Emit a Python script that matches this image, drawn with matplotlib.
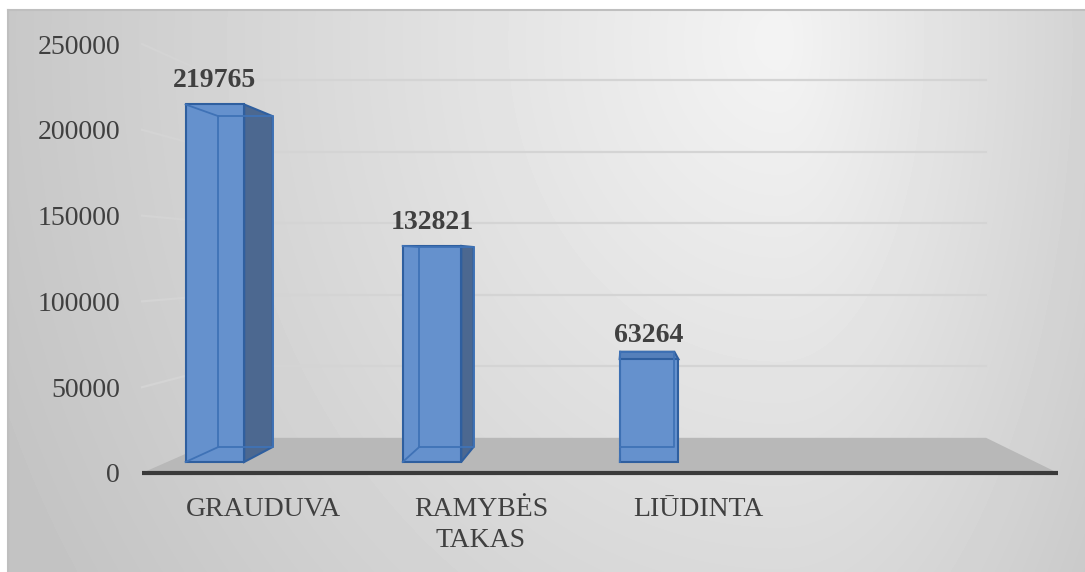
import numpy as np
import matplotlib.pyplot as plt
from matplotlib.patches import Polygon

# data
categories = ['GRAUDUVA', 'RAMYBĖS\nTAKAS', 'LIŪDINTA']
values = [219765, 132821, 63264]
y_ticks = [0, 50000, 100000, 150000, 200000, 250000]

plt.rcParams['font.family'] = ['Liberation Serif', 'DejaVu Serif']
TXT = '#404040'

# fake one-point perspective to get the excel 3d column look
VX, VY = 1.609, 123500
S_BACK = 0.834                  # floor / back wall depth
S_FRONT_BAR, S_BACK_BAR = 0.948, 0.877
BAR_SHIFT, BAR_W = -0.28, 0.27
X0, X1 = -0.5, 3.5              # floor spans 4 category slots


def proj(x, y, s):
    return VX + (x - VX) * s, VY + (y - VY) * s


fig = plt.figure(figsize=(10.85, 5.72), dpi=100)

# background gradient of the chart area
bg = fig.add_axes([8 / 1085, 0, 1077 / 1085, 562 / 572], zorder=-1)
W, H = 1077, 562
xs = 8 + np.arange(W)
ys = 10 + np.arange(H)
gx, gy = np.meshgrid(xs, ys)
dx = np.where(gx < 780, (gx - 780) / 720.0, (gx - 780) / 380.0)
dy = (gy - 40) / 850.0
r = np.minimum(np.sqrt(dx ** 2 + dy ** 2), 1.2)
bright = 0.955 - 0.16 * r
bg.imshow(bright, cmap='gray', vmin=0, vmax=1, aspect='auto',
          extent=[0, 1, 0, 1], interpolation='bilinear')
bg.set_xlim(0, 1)
bg.set_ylim(0, 1)
bg.set_xticks([])
bg.set_yticks([])
for side in ['right', 'bottom']:
    bg.spines[side].set_visible(False)
for side in ['left', 'top']:
    bg.spines[side].set_color('#bfbfbf')
    bg.spines[side].set_linewidth(1.5)

ax = fig.add_axes([142 / 1085, 99 / 572, 916 / 1085, 429 / 572])
ax.set_facecolor('none')
ax.set_xlim(X0, X1)
ax.set_ylim(0, 250000)
for s in ax.spines.values():
    s.set_visible(False)

# floor
floor = [proj(X0, 0, 1), proj(X1, 0, 1), proj(X1, 0, S_BACK), proj(X0, 0, S_BACK)]
ax.add_patch(Polygon(floor, closed=True, facecolor='#b8b8b8', edgecolor='none', zorder=1))
ax.plot([X0, X1], [0, 0], color='#3a3a3a', lw=3, solid_capstyle='butt', zorder=2, clip_on=False)

# gridlines on left wall and back wall
for v in y_ticks[1:]:
    bx0, by = proj(X0, v, S_BACK)
    bx1, _ = proj(X1, v, S_BACK)
    ax.plot([X0, bx0], [v, by], color='#d4d4d4', lw=1.6, zorder=1, clip_on=False)
    ax.plot([bx0, bx1], [by, by], color='#d4d4d4', lw=1.6, zorder=1, clip_on=False)

front_col = '#6591cd'
side_col = '#4c6890'
top_col = '#5580bb'
edge_col = '#2f5f9f'
inner_col = '#3f72b6'

for i, h in enumerate(values):
    xc = i + BAR_SHIFT
    x0, x1 = xc - BAR_W / 2, xc + BAR_W / 2
    sf, sb = S_FRONT_BAR, S_BACK_BAR

    # right side face, only when it faces the viewer
    if x1 < VX:
        side = [proj(x1, 0, sf), proj(x1, 0, sb), proj(x1, h, sb), proj(x1, h, sf)]
        ax.add_patch(Polygon(side, closed=True, facecolor=side_col, edgecolor=edge_col,
                             lw=1.5, zorder=3))
    # top face seen from above
    if h < VY:
        top = [proj(x0, h, sf), proj(x1, h, sf), proj(x1, h, sb), proj(x0, h, sb)]
        ax.add_patch(Polygon(top, closed=True, facecolor=top_col, edgecolor=edge_col,
                             lw=1.5, zorder=3))

    fx0, fy0 = proj(x0, 0, sf)
    fx1, fy1 = proj(x1, h, sf)
    ax.bar(fx0, fy1 - fy0, width=fx1 - fx0, bottom=fy0, align='edge',
           color=front_col, edgecolor=edge_col, lw=1.5, zorder=4)

    # hidden edges showing through the transparent box
    back = [proj(x0, 0, sb), proj(x1, 0, sb), proj(x1, h, sb), proj(x0, h, sb), proj(x0, 0, sb)]
    ax.plot([p[0] for p in back], [p[1] for p in back], color=inner_col, lw=1.3, zorder=5)
    for yy in [0, h]:
        a, b = proj(x0, yy, sf), proj(x0, yy, sb)
        ax.plot([a[0], b[0]], [a[1], b[1]], color=inner_col, lw=1.3, zorder=5)

    lx, ly = proj(xc, h, sf)
    ax.annotate(str(h), xy=(lx, ly), xytext=(0, 12.5), textcoords='offset points',
                ha='center', va='baseline', fontsize=20, fontweight='bold',
                color=TXT, zorder=6)

ax.set_yticks(y_ticks)
ax.set_yticklabels([str(v) for v in y_ticks], fontsize=20, color=TXT)
ax.tick_params(axis='y', length=0, pad=15.8)

ax.set_xticks([i * 0.95 + 0.03 for i in range(len(categories))])
ax.set_xticklabels(categories, fontsize=20, color=TXT)
ax.tick_params(axis='x', length=0, pad=17.5)
for lab in ax.get_xticklabels():
    lab.set_linespacing(1.3)

fig.savefig('out.png', dpi=100)
